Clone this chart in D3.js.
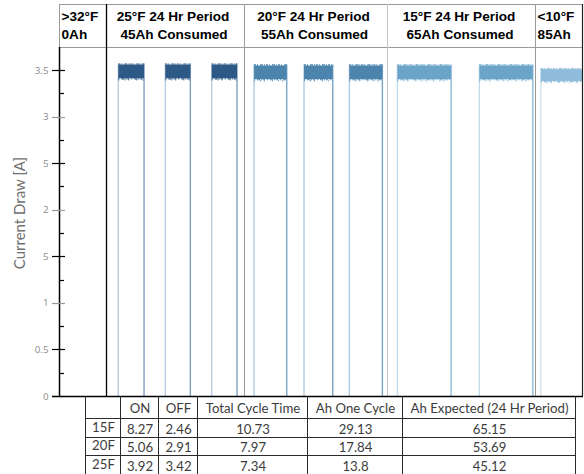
<!DOCTYPE html>
<html>
<head>
<meta charset="utf-8">
<script src="https://cdn.jsdelivr.net/npm/d3@7"></script>
<style>
  html, body { margin: 0; padding: 0; background: #fff; }
  svg { display: block; }
</style>
</head>
<body>
<div id="chart"></div>
<script>
// ---------------- DATA ----------------
// Time axis in minutes (no labels shown on the original)
const timeMax = 80.6;
// Header regions (start time of each region, minutes)
const regionStart = [0, 7.23, 28.46, 50.46, 73.23];
const headerLine1 = [">32°F", "25°F 24 Hr Period", "20°F 24 Hr Period", "15°F 24 Hr Period", "<10°F"];
const headerLine2 = ["0Ah", "45Ah Consumed", "55Ah Consumed", "65Ah Consumed", "85Ah"];

// Compressor ON / OFF times (minutes) for each temperature
const on25 = [9.12, 16.35, 23.49];
const off25 = [13.08, 20.2, 27.38];
const on20 = [30.0, 37.69, 44.66];
const off20 = [35.03, 42.11, 49.74];
const on15 = [52.05, 64.66];
const off15 = [60.31, 72.88];
const on10 = [74.11];
const off10 = [80.6];
// Current draw band while ON (A): low / high of the noisy trace
const seriesNames = ["25F", "20F", "15F", "10F"];
const bandLow = [3.40, 3.39, 3.39, 3.37];
const bandHigh = [3.57, 3.56, 3.56, 3.52];

// Y axis
const yTicks = [0, 0.5, 1, 1.5, 2, 2.5, 3, 3.5];
const yTickLabels = ["0", "0.5", "1", "5", "2", "5", "3", "3.5"];
const yMinorTicks = [0.25, 0.75, 1.25, 1.75, 2.25, 2.75, 3.25];
const yLabel = "Current Draw [A]";

// Table
const tableHeader = ["", "ON", "OFF", "Total Cycle Time", "Ah One Cycle", "Ah Expected (24 Hr Period)"];
const tableRows = ["15F", "20F", "25F"];
const onTime = [8.27, 5.06, 3.92];
const offTime = [2.46, 2.91, 3.42];
const cycleTime = [10.73, 7.97, 7.34];
const ahOneCycle = [29.13, 17.84, 13.8];
const ahExpected = [65.15, 53.69, 45.12];

// ---------------- DRAW ----------------
const W = 584, H = 474;
const svg = d3.select("#chart").append("svg").attr("width", W).attr("height", H);
svg.append("rect").attr("width", W).attr("height", H).attr("fill", "#fff");

const x = d3.scaleLinear().domain([0, timeMax]).range([59, 583]);
const y = d3.scaleLinear().domain([0, 3.5]).range([396, 70]);

const bandColor = ["#2c5985", "#4c84ae", "#6aa4c8", "#8fbcdb"];
const edgeColor = ["#7e9fc1", "#7aa6c8", "#8dbbd9", "#b3d0e6"];
const edgeLight = ["#b9cce0", "#b0cbe0", "#c2dbeb", "#cfe2ef"];

const onArr = [on25, on20, on15, on10];
const offArr = [off25, off20, off15, off10];

// pulses
const plot = svg.append("g");
seriesNames.forEach((name, i) => {
  const g = plot.append("g").attr("class", "series-" + name);
  onArr[i].forEach((t0, k) => {
    const t1 = offArr[i][k];
    // left (rising) edge
    g.append("line")
      .attr("x1", x(t0)).attr("x2", x(t0))
      .attr("y1", y(0)).attr("y2", y(bandHigh[i]))
      .attr("stroke", edgeLight[i]).attr("stroke-width", 1.4);
    // right (falling) edge
    if (t1 < timeMax) {
      g.append("line")
        .attr("x1", x(t1)).attr("x2", x(t1))
        .attr("y1", y(0)).attr("y2", y(bandHigh[i]))
        .attr("stroke", edgeColor[i]).attr("stroke-width", 1.4);
    }
    // noisy ON band
    g.append("rect")
      .attr("x", x(t0)).attr("width", x(t1) - x(t0))
      .attr("y", y(bandHigh[i]) + 1).attr("height", y(bandLow[i]) - y(bandHigh[i]) - 2)
      .attr("fill", bandColor[i]);
    // ragged top / bottom edges of the noisy trace
    g.append("line")
      .attr("x1", x(t0)).attr("x2", x(t1))
      .attr("y1", y(bandHigh[i]) + 0.5).attr("y2", y(bandHigh[i]) + 0.5)
      .attr("stroke", bandColor[i]).attr("stroke-width", 1.2)
      .attr("stroke-dasharray", "2,1,1,2,3,1,1,1");
    g.append("line")
      .attr("x1", x(t0)).attr("x2", x(t1))
      .attr("y1", y(bandLow[i]) - 0.5).attr("y2", y(bandLow[i]) - 0.5)
      .attr("stroke", bandColor[i]).attr("stroke-width", 1.2)
      .attr("stroke-dasharray", "1,2,3,1,1,1,2,2");
    g.append("line")
      .attr("x1", x(t0)).attr("x2", x(t1))
      .attr("y1", y(bandLow[i]) + 0.6).attr("y2", y(bandLow[i]) + 0.6)
      .attr("stroke", bandColor[i]).attr("stroke-width", 1)
      .attr("stroke-dasharray", "1,5,1,3,1,7");
  });
});

// header / region frame
const topY = 4, headY = 47, baseY = 396;
svg.append("line").attr("x1", x(0)).attr("x2", 583).attr("y1", topY + 0.5).attr("y2", topY + 0.5)
  .attr("stroke", "#9a9a9a").attr("stroke-width", 1);
svg.append("line").attr("x1", x(0)).attr("x2", 583).attr("y1", headY + 0.5).attr("y2", headY + 0.5)
  .attr("stroke", "#9a9a9a").attr("stroke-width", 1);
regionStart.forEach((t, i) => {
  const xx = Math.round(x(t)) + 0.5;
  if (i === 0) {
    svg.append("line").attr("x1", xx).attr("x2", xx).attr("y1", topY).attr("y2", headY)
      .attr("stroke", "#9a9a9a");
  } else {
    svg.append("line").attr("x1", xx).attr("x2", xx).attr("y1", topY).attr("y2", baseY)
      .attr("stroke", i === 1 ? "#000" : (i === 3 ? "#c8c8c8" : "#9a9a9a"))
      .attr("stroke-width", i === 1 ? 1.3 : 1);
  }
});
// right border
svg.append("line").attr("x1", 582.5).attr("x2", 582.5).attr("y1", topY).attr("y2", baseY)
  .attr("stroke", "#222").attr("stroke-width", 1.2);

// header text
const hdr = svg.append("g").attr("font-family", "'Liberation Sans', Arial, sans-serif")
  .attr("font-weight", "bold").attr("font-size", 13.6).attr("fill", "#000");
regionStart.forEach((t, i) => {
  const x0 = x(t), x1 = i < regionStart.length - 1 ? x(regionStart[i + 1]) : 583;
  const narrow = (x1 - x0) < 80;
  const tx = narrow ? x0 + 2.5 : (x0 + x1) / 2 - 2;
  const anchor = narrow ? "start" : "middle";
  hdr.append("text").attr("x", tx).attr("y", 21).attr("text-anchor", anchor).text(headerLine1[i]);
  hdr.append("text").attr("x", tx + (narrow ? 0 : 1)).attr("y", 39).attr("text-anchor", anchor).text(headerLine2[i]);
});

// Y axis
const axX = 59.5;
svg.append("line").attr("x1", axX).attr("x2", axX).attr("y1", headY).attr("y2", baseY)
  .attr("stroke", "#000").attr("stroke-width", 1.5);
const yAxis = d3.axisLeft(y).tickValues(yTicks).tickSize(0).tickPadding(0)
  .tickFormat((d, i) => yTickLabels[i]);
const yg = svg.append("g").attr("transform", `translate(48.5,0)`).call(yAxis);
yg.select(".domain").remove();
yg.selectAll("text").attr("font-family", "'Open Sans', sans-serif").attr("font-size", 9.8)
  .attr("fill", "#8c8c8c");
// major ticks
svg.append("g").selectAll("line").data(yTicks).join("line")
  .attr("x1", 52).attr("x2", 65)
  .attr("y1", d => Math.round(y(d)) + 0.5).attr("y2", d => Math.round(y(d)) + 0.5)
  .attr("stroke", (d, i) => (i % 2 === 0 ? "#9a9a9a" : "#000")).attr("stroke-width", 1.2);
// minor ticks
svg.append("g").selectAll("line").data(yMinorTicks).join("line")
  .attr("x1", 59).attr("x2", 64)
  .attr("y1", d => Math.round(y(d)) + 0.5).attr("y2", d => Math.round(y(d)) + 0.5)
  .attr("stroke", "#000").attr("stroke-width", 1.2);

// X baseline
svg.append("line").attr("x1", 52).attr("x2", 583).attr("y1", baseY + 0.5).attr("y2", baseY + 0.5)
  .attr("stroke", "#000").attr("stroke-width", 1.6);

// Y label
svg.append("text")
  .attr("transform", `translate(25,${(y(0) + y(3.5)) / 2 - 20}) rotate(-90)`)
  .attr("text-anchor", "middle")
  .attr("font-family", "Lato, sans-serif").attr("font-size", 15)
  .attr("fill", "#707070").text(yLabel);

// ---------------- TABLE ----------------
const colEdges = [85, 120, 158, 197, 307, 402, 575];
const rowEdges = [396, 418, 437, 455, 474];
const tg = svg.append("g");
colEdges.forEach(cx => {
  tg.append("line").attr("x1", cx + 0.5).attr("x2", cx + 0.5).attr("y1", 396).attr("y2", 474)
    .attr("stroke", "#2a2a2a").attr("stroke-width", 1);
});
rowEdges.slice(1, 4).forEach(ry => {
  tg.append("line").attr("x1", 85).attr("x2", 575).attr("y1", ry + 0.5).attr("y2", ry + 0.5)
    .attr("stroke", "#2a2a2a").attr("stroke-width", 1);
});
const cellText = (txt, col, row, dy) => {
  const cx = (colEdges[col] + colEdges[col + 1]) / 2 + 1;
  const cy = (rowEdges[row] + rowEdges[row + 1]) / 2;
  tg.append("text").attr("x", cx).attr("y", cy + (dy || 0))
    .attr("text-anchor", "middle").attr("dominant-baseline", "central")
    .attr("font-family", "Lato, sans-serif").attr("font-size", 13.2)
    .attr("fill", "#3c3c3c").text(txt);
};
tableHeader.forEach((h, c) => { if (h) cellText(h, c, 0, 1); });
const cols = [onTime, offTime, cycleTime, ahOneCycle, ahExpected];
tableRows.forEach((r, ri) => {
  cellText(r, 0, ri + 1, -1);
  cols.forEach((arr, ci) => cellText(String(arr[ri]), ci + 1, ri + 1, 1));
});
</script>
</body>
</html>
